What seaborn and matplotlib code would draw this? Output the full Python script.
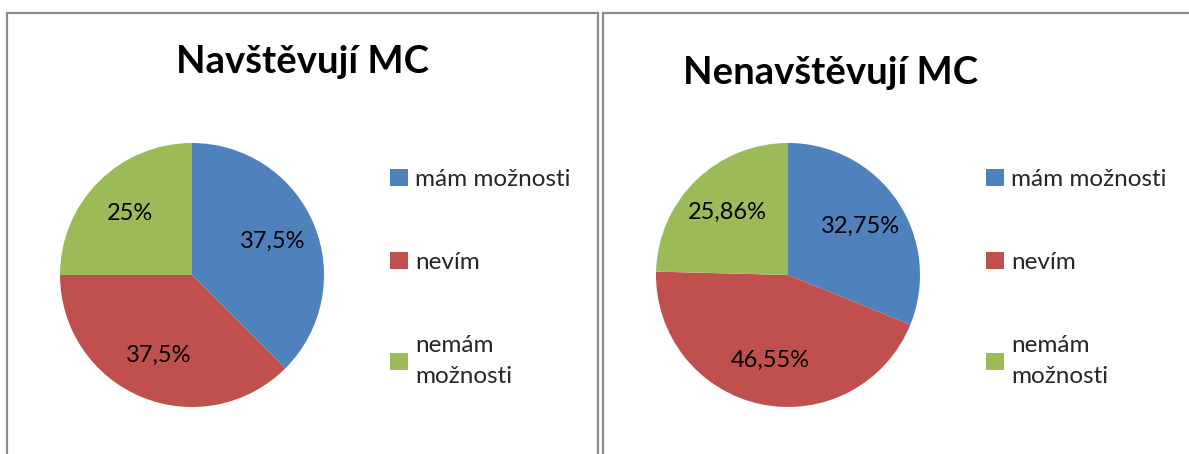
import matplotlib
matplotlib.use("Agg")
from matplotlib import pyplot as plt
from matplotlib.patches import Rectangle
import seaborn as sns

# data
categories = ["mám možnosti", "nevím", "nemám\nmožnosti"]
titles = ["Navštěvují MC", "Nenavštěvují MC"]
visit_values = [37.5, 37.5, 25]
visit_labels = ["37,5%", "37,5%", "25%"]
novisit_values = [32.75, 46.55, 25.86]
novisit_labels = ["32,75%", "46,55%", "25,86%"]

colors = ["#4F81BD", "#C0504D", "#9BBB59"]

sns.set_theme(style="white")
plt.rcParams['font.family'] = ['Lato', 'DejaVu Sans']

W, H = 1189, 454
fig = plt.figure(figsize=(W / 100, H / 100), dpi=100)


def px_rect(x0, y0, x1, y1):
    # pixel box (top-left origin) -> figure fraction [l, b, w, h]
    return [x0 / W, 1 - y1 / H, (x1 - x0) / W, (y1 - y0) / H]


# panel frames
for x0, x1 in [(7, 598), (603, 1200)]:
    l, b, w, h = px_rect(x0, 13, x1, 470)
    fig.patches.append(Rectangle((l, b), w, h, transform=fig.transFigure,
                                 fill=False, edgecolor="#8c8c8c", linewidth=1.6))

panels = [
    (visit_values, visit_labels, 60, titles[0], 302, 73),
    (novisit_values, novisit_labels, 656, titles[1], 831, 84),
]

for values, labels, left, title, tx, ty in panels:
    ax = fig.add_axes(px_rect(left, 143, left + 264, 407))
    it = iter(labels)
    wedges, _, autotexts = ax.pie(values, colors=colors, startangle=90, counterclock=False,
                                  autopct=lambda p: next(it), pctdistance=0.66,
                                  wedgeprops=dict(linewidth=0),
                                  textprops=dict(fontsize=17, color="black"))
    ax.set_xlim(-1, 1)
    ax.set_ylim(-1, 1)
    ax.set_aspect("equal")
    fig.text(tx / W, 1 - ty / H, title, ha="center", va="baseline",
             fontsize=27.5, fontweight="bold", color="black")
    lx = (left + 330) / W
    leg = fig.legend(wedges, categories, loc="upper left", bbox_to_anchor=(lx, 1 - 169 / H),
                     frameon=False, fontsize=17.5, handlelength=0.72, handleheight=0.72,
                     handletextpad=0.3, labelspacing=2.55, borderaxespad=0, borderpad=0)
    for t in leg.get_texts():
        t.set_linespacing(1.6)

fig.savefig("out.png", dpi=100)
